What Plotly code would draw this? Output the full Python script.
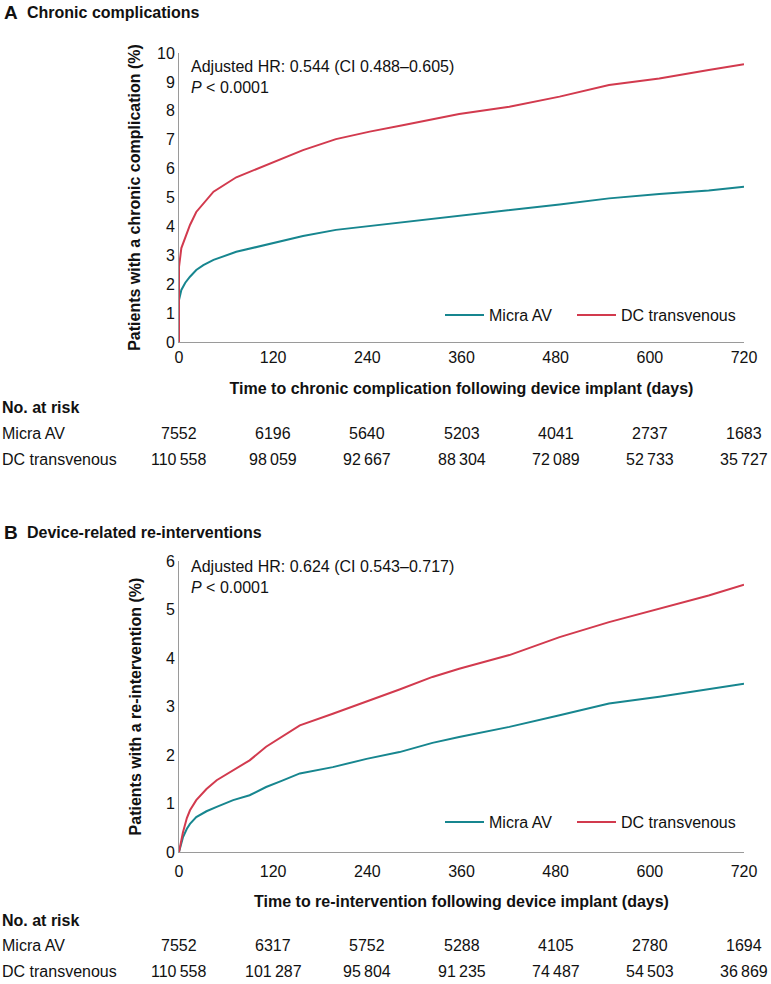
import plotly.graph_objects as go

W, H = 771, 984

# ---------------- data ----------------
tick_days = [0, 120, 240, 360, 480, 600, 720]

a_days = [0, 0, 3, 8, 14, 22, 31, 44, 73, 116, 158, 200, 243, 285, 328, 357, 421, 485, 548, 612, 675, 720]
a_micra = [0, 1.45, 1.8, 2.05, 2.26, 2.49, 2.66, 2.84, 3.12, 3.41, 3.67, 3.88, 4.01, 4.16, 4.28, 4.36, 4.57, 4.76, 4.97, 5.12, 5.24, 5.37]
a_dc = [0, 2.6, 3.25, 3.64, 4.05, 4.5, 4.79, 5.2, 5.7, 6.18, 6.64, 7.02, 7.28, 7.5, 7.74, 7.89, 8.14, 8.49, 8.89, 9.12, 9.41, 9.61]

b_days = [0, 5, 10, 14, 22, 35, 48, 69, 90, 111, 130, 141, 154, 196, 239, 281, 323, 357, 421, 485, 548, 612, 675, 720]
b_micra = [0, 0.3, 0.48, 0.58, 0.72, 0.84, 0.93, 1.07, 1.17, 1.34, 1.46, 1.53, 1.62, 1.75, 1.92, 2.06, 2.25, 2.37, 2.58, 2.82, 3.06, 3.2, 3.35, 3.47]
b_dc = [0, 0.4, 0.7, 0.86, 1.07, 1.3, 1.48, 1.68, 1.89, 2.17, 2.36, 2.47, 2.61, 2.85, 3.1, 3.35, 3.61, 3.78, 4.06, 4.43, 4.74, 5.02, 5.29, 5.51]

a_risk_micra = [7552, 6196, 5640, 5203, 4041, 2737, 1683]
a_risk_dc = [110558, 98059, 92667, 88304, 72089, 52733, 35727]
b_risk_micra = [7552, 6317, 5752, 5288, 4105, 2780, 1694]
b_risk_dc = [110558, 101287, 95804, 91235, 74487, 54503, 36869]

series_names = ["Micra AV", "DC transvenous"]
TEAL = "#17868F"
RED = "#D23A4E"
FONT = "Liberation Sans, Arial, Helvetica, sans-serif"
AXC = "#9a9a9a"


def px(x):
    return x / W


def py(y):
    return 1 - y / H


def fmt(n):
    s = f"{n:,}"
    return s.replace(",", "\u2009") if n >= 10000 else str(n)


fig = go.Figure()

for days, m, d, xa, ya, lg_m, lg_d in [
    (a_days, a_micra, a_dc, "x", "y", "legend", "legend3"),
    (b_days, b_micra, b_dc, "x2", "y2", "legend2", "legend4"),
]:
    fig.add_trace(go.Scatter(x=days, y=m, mode="lines", name=series_names[0],
                             line=dict(color=TEAL, width=2), xaxis=xa, yaxis=ya, legend=lg_m))
    fig.add_trace(go.Scatter(x=days, y=d, mode="lines", name=series_names[1],
                             line=dict(color=RED, width=2), xaxis=xa, yaxis=ya, legend=lg_d))

x_dom = [px(179), px(744)]
axis_common = dict(showline=True, linecolor=AXC, linewidth=1, showgrid=False, zeroline=False,
                   ticks="", tickfont=dict(size=16, color="#111"), fixedrange=True, automargin=False)

legend_common = dict(orientation="h", xanchor="left", yanchor="middle", font=dict(size=16),
                     bgcolor="rgba(0,0,0,0)", itemwidth=39)

fig.update_layout(
    width=W, height=H,
    margin=dict(l=0, r=0, t=0, b=0, pad=0, autoexpand=False),
    paper_bgcolor="white", plot_bgcolor="white",
    font=dict(family=FONT, color="#111", size=16),
    xaxis=dict(domain=x_dom, range=[0, 720], tickvals=tick_days, anchor="y", ticklabelstandoff=1,
               title=dict(text="<b>Time to chronic complication following device implant (days)</b>",
                          font=dict(size=16), standoff=17),
               **axis_common),
    yaxis=dict(domain=[py(342), py(53)], range=[0, 10], dtick=1, anchor="x",
               title=dict(text="<b>Patients with a chronic complication (%)</b>",
                          font=dict(size=16), standoff=12),
               **axis_common),
    xaxis2=dict(domain=x_dom, range=[0, 720], tickvals=tick_days, anchor="y2", ticklabelstandoff=5,
                title=dict(text="<b>Time to re-intervention following device implant (days)</b>",
                           font=dict(size=16), standoff=16),
                **axis_common),
    yaxis2=dict(domain=[py(852), py(561)], range=[0, 6], dtick=1, anchor="x2",
                title=dict(text="<b>Patients with a re-intervention (%)</b>",
                           font=dict(size=16), standoff=20),
                **axis_common),
    legend=dict(x=px(440), y=py(315), **legend_common),
    legend3=dict(x=px(572), y=py(315), **legend_common),
    legend2=dict(x=px(440), y=py(822), **legend_common),
    legend4=dict(x=px(572), y=py(822), **legend_common),
    showlegend=True,
)

ann = []
# panel titles
for letter, title, y in [("A", "Chronic complications", 13), ("B", "Device-related re-interventions", 532)]:
    ann.append(dict(text=f"<b>{letter}</b>", x=px(2), y=py(y), xref="paper", yref="paper",
                    xanchor="left", yanchor="middle", showarrow=False, font=dict(size=19)))
    ann.append(dict(text=f"<b>{title}</b>", x=px(25), y=py(y), xref="paper", yref="paper",
                    xanchor="left", yanchor="middle", showarrow=False, font=dict(size=16)))

# HR annotations
for txt, ytop in [("Adjusted HR: 0.544 (CI 0.488\u20130.605)<br><i>P</i> < 0.0001", 56),
                  ("Adjusted HR: 0.624 (CI 0.543\u20130.717)<br><i>P</i> < 0.0001", 556)]:
    ann.append(dict(text=txt, x=px(189), y=py(ytop), xref="paper", yref="paper", align="left",
                    xanchor="left", yanchor="top", showarrow=False, font=dict(size=16)))

# risk tables
for xr, y0, rm, rd in [("x", 408, a_risk_micra, a_risk_dc), ("x2", 920, b_risk_micra, b_risk_dc)]:
    ann.append(dict(text="<b>No. at risk</b>", x=0, y=py(y0), xref="paper", yref="paper",
                    xanchor="left", yanchor="middle", showarrow=False, font=dict(size=16)))
    for label, vals, dy in [(series_names[0], rm, 25), (series_names[1], rd, 51)]:
        ann.append(dict(text=label, x=0, y=py(y0 + dy), xref="paper", yref="paper",
                        xanchor="left", yanchor="middle", showarrow=False, font=dict(size=16)))
        for d, v in zip(tick_days, vals):
            ann.append(dict(text=fmt(v), x=d, y=py(y0 + dy), xref=xr, yref="paper",
                            xanchor="center", yanchor="middle", showarrow=False, font=dict(size=16)))

fig.update_layout(annotations=ann)

fig.write_html("out.html", config={"displayModeBar": False},
               post_script="document.body.style.margin='0';document.body.style.overflow='hidden';")
